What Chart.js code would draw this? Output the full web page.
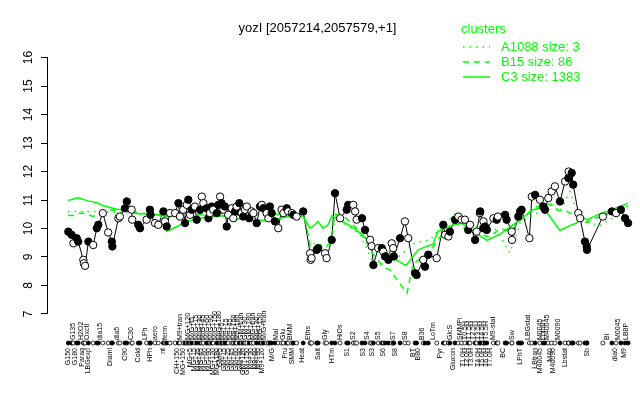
<!DOCTYPE html>
<html><head><meta charset="utf-8">
<script src="https://cdn.jsdelivr.net/npm/chart.js@4.4.1/dist/chart.umd.min.js"></script>
<style>html,body{margin:0;padding:0;background:#fff;}</style>
</head><body>
<canvas id="c" width="640" height="400"></canvas>
<script>
// ---- measured expression values (condition rank, log2 level, marker type) ----
const positions = [0.1,1.2,1.8,2.9,3.4,5.1,5.3,5.7,6.8,8.4,9.6,10.1,11.6,13.4,14.6,14.8,16.8,17.3,19.0,19.6,
21.2,21.4,23.4,24.0,26.2,27.3,27.5,29.0,30.1,31.8,32.3,32.9,34.0,35.7,36.8,37.3,38.4,39.0,39.6,40.1,
40.7,41.2,42.3,42.9,44.0,44.6,45.1,46.2,46.8,47.3,47.9,48.4,49.6,50.1,50.7,51.2,51.8,52.3,52.9,53.4,
54.6,55.1,55.7,56.2,57.1,57.9,58.4,59.0,59.6,60.4,61.2,61.8,62.9,64.0,64.6,65.1,66.2,66.8,67.3,67.9,
69.0,70.1,71.2,71.8,72.9,73.4,74.6,75.1,76.2,78.4,80.7,80.9,81.2,82.9,83.4,85.7,86.2,87.9,89.0,90.7,
92.9,93.4,95.1,95.7,96.2,98.0,99.0,100.7,101.2,101.8,103.4,104.6,105.1,105.7,106.8,107.9,108.4,108.6,110.7,112.3,
113.4,115.7,116.2,118.4,119.0,120.1,122.9,125.1,125.7,126.8,127.3,129.0,130.1,131.2,132.3,133.4,134.0,135.7,136.2,137.3,
137.4,138.4,138.5,139.0,139.6,141.8,142.9,143.3,145.7,146.2,147.9,148.0,150.1,150.7,151.2,153.8,154.6,155.7,157.3,158.4,
159.0,160.1,161.2,162.3,164.0,165.7,166.8,166.9,167.9,168.4,170.1,170.7,172.3,172.9,173.0,178.3,181.3,182.7,184.3,185.7,186.7];
const values = [9.89,9.78,9.48,9.66,9.54,8.90,8.78,8.69,9.54,9.42,10.01,10.13,10.54,9.86,9.54,9.37,10.36,10.42,10.71,10.95,
10.66,10.31,10.13,10.01,10.31,10.66,10.48,10.19,10.13,10.60,10.25,10.07,10.54,10.54,10.89,10.42,10.66,10.19,10.83,11.01,
10.48,10.66,10.77,10.31,10.66,11.12,10.89,10.71,10.36,10.54,10.77,10.66,10.54,10.83,11.12,10.89,10.66,10.77,10.07,10.48,
10.71,10.36,10.60,10.77,10.89,10.54,10.42,10.66,10.77,10.36,10.60,10.54,10.19,10.77,10.83,10.71,10.54,10.36,10.77,10.54,
10.25,10.01,10.66,10.54,10.71,10.60,10.54,10.48,10.42,10.60,9.13,8.90,8.96,9.25,9.31,9.13,8.96,9.60,11.24,10.36,
10.66,10.83,10.83,10.60,10.31,10.36,9.95,9.60,9.38,8.72,9.31,9.31,9.19,9.02,8.90,9.48,9.31,9.02,9.66,10.25,
9.66,8.43,8.37,8.90,8.66,9.08,8.96,10.13,9.78,9.72,9.89,10.31,10.42,10.31,10.31,9.95,10.13,9.60,9.89,10.54,
10.60,10.01,10.25,10.07,9.95,10.36,10.31,10.42,10.48,10.31,9.89,9.60,10.42,10.60,10.66,9.66,11.12,11.18,11.01,10.77,
10.66,11.07,11.30,11.48,10.95,11.65,11.77,12.00,11.95,11.54,10.54,10.36,9.54,9.37,9.25,10.42,10.60,10.54,10.66,10.36,10.19];
const filled = [1,1,0,1,1,0,0,0,1,0,1,1,0,0,1,1,0,0,1,1,
0,0,1,1,0,1,1,0,0,1,0,1,0,0,1,0,0,1,0,1,
0,1,0,1,1,0,0,1,1,0,1,0,1,1,0,1,0,1,1,0,
0,0,1,0,1,0,1,0,0,1,0,0,1,1,0,1,0,0,1,1,
1,0,0,0,1,0,0,1,0,1,0,0,0,1,1,0,0,1,1,0,
1,1,0,0,0,1,1,0,0,1,0,1,0,1,1,0,0,1,1,0,
0,1,1,0,1,1,0,1,0,0,1,1,0,0,0,1,0,1,0,0,
1,1,0,1,1,0,1,0,1,1,0,0,1,1,1,0,0,1,0,1,
1,0,0,0,1,0,1,0,1,1,0,0,1,1,1,0,1,0,1,1,1];

// ---- cluster profiles ----
const c3Pos = [0,3.3,6.7,9.7,11.7,16.3,19.7,23,27.3,30.7,31.7,33,35,39.7,44,47.3,51.7,55,59,61.7,68.3,70.7,75,78.3,80.7,82.3,83.3,85,86.7,88,90.7,94,97.3,99.7,101.7,105,107.3,109.7,112.7,114.3,116.7,119.7,121.7,123.3,126.3,129,131.3,134.7,139.7,144,150.7,155,157.3,159.7,164,167.3,169.7,170.7,173,177,181.3,186.7];
const c3Val = [10.98,11.08,10.97,10.9,10.8,10.68,10.66,10.52,10.52,10.48,10.3,9.9,10.0,10.25,10.36,10.4,10.45,10.3,10.38,10.3,10.28,10.36,10.46,10.42,10.01,10.13,10.25,10.01,10.13,10.45,10.28,10.1,9.85,9.6,9.4,9.2,9.1,8.88,8.7,8.92,9.25,9.38,9.45,9.9,10.05,10.15,10.18,9.92,9.58,9.8,10.3,10.66,10.71,10.55,9.93,10.1,10.2,10.45,10.3,10.5,10.66,10.89];
const b15Pos = [0,2,4,6,8.3,10.7,14,20.7,27.3,34,44,57.3,67.3,77.3,79,80.7,84,87.3,89,92.3,97.3,101.7,105,107.3,110.7,113,115,118.3,121.7,124,129,134,140.7,144,147.7,150.7,155.7,160.7,163,166.3,169.7,172.3,181.3,186.7];
const b15Val = [10.46,10.46,10.54,10.52,10.42,10.55,10.65,10.6,10.5,10.42,10.5,10.55,10.5,10.5,10.35,9.4,9.35,9.45,10.5,10.4,9.9,9.1,8.65,8.55,8.05,7.73,8.75,9.0,9.35,9.7,10.2,9.9,9.7,10.0,9.9,10.3,10.75,10.85,10.65,10.6,10.4,10.2,10.6,10.8];
const a1088Pos = [0,10.7,27.3,44,77.3,79,80.7,87.3,89,97.3,101.7,105.7,109,112.3,115.7,120.7,125.7,129,134,142.3,147.3,150.7,157.3,160.7,164,167.3,170.7,177.3,186.7];
const a1088Val = [10.6,10.6,10.5,10.45,10.5,10.3,9.5,9.35,10.4,9.8,8.8,8.75,8.9,9.2,9.5,9.6,10.2,10.5,10.1,10.0,9.15,10.2,10.6,10.9,10.6,11.3,10.3,10.1,10.7];
const clusterNames = ['A1088','B15','C3'];
const clusterSizes = [3,86,1383];

// ---- tick labels ----
const yTicks = [7,8,9,10,11,12,13,14,15,16];
const bottomNames = ['G150','G180','Paraq','LBGexp','Diaml','C90','Cold','HPh','nt','CH+150','MG+150',
'MG+5','MG+15','MG+25','MG+45','MG+60','MG+90','MG+120','MG+180','GM+5','GM+15','GM+25','GM+45','GM+60','GM+90','GM+120','GM+150','M9+30','M9+60','M9+90','M9+120',
'M/G','Fru','SMM','Heat','Salt','HTm','S1','S3','S3','S6','S8','BT','B80','Pyr','Glucon',
'T1.0H','T2.0H','T3.0H','T4.0H','T5.0H','T6.0H','T7.0H','BC','LPhT','LBtran','M40045','M40','M40090','Lbstat','Sb','dia0','M9'];
const bottomPos = [0,2.3,4.7,6.7,14,19,23.3,27.3,31.7,36.3,38.3,
40.7,42.0,43.2,44.5,45.8,47.0,48.3,49.6,50.8,52.1,53.4,54.6,55.9,57.2,58.4,59.7,61.0,62.2,63.5,64.8,
68,72.3,74.7,78,83.3,88,93,98.3,101.3,105,109,115,116.7,124,128.3,
131.7,133,134.3,136.7,138,139.3,140.7,145,150.7,155.7,157.3,160.7,161.7,165.7,173,182.3,185.3];
const topNames = ['G135','H2O2','Oxctl','dia15','dia5','C30','LPh','aero','ferm','M9+tran','MG+120',
'M/G+t5','M/G+15','M/G+30','M/G+45','M/G+60','M/G+90','M/G+150','M/G+180','M9+5','M9+15','M9+45','M9+150','M9+180','GM+tran','GM+30','GM+180','MG+tran','MG+30','MG+150','M/G+tran',
'Mal','Glu','BMM','Eths','Gly','HiOs','S2','S4','S5','S7','S8','B36','LoTm','GlcS','SMMPi',
'T0.5H','T1.5H','T2.5H','T3.5H','T4.5H','T5.5H','M9-stat','Sw','LBGstat','M0045','Lbtran','M40045','M0090','BI','M0045','LB8P'];
const topPos = [1.7,4.3,6.3,10.7,16.3,21,25.7,29,32.3,37.3,40,
41.3,42.6,43.9,45.1,46.4,47.7,48.9,50.2,51.5,52.7,54.0,55.3,56.5,57.8,59.1,60.3,61.6,62.9,64.1,65.4,
69.3,71.7,74,80,85.7,90.7,95,99.7,103.3,108.3,112.3,118,121.7,127.3,130.7,
132.3,133.7,135,136.7,138,139.3,141.7,148,153.3,157.3,158.3,159.7,163.3,179.7,183.3,186];

const MARKER_ROW = 5.98;
const FONT = '"Liberation Sans", Arial, Helvetica, sans-serif';
const GREEN = '#00ff00';

const toXY = (xs, ys) => xs.map((x, i) => ({x: x, y: ys[i]}));
const pointData = toXY(positions, values);
const markerData = positions.map(x => ({x: x, y: MARKER_ROW}));
const fills = filled.map(f => f ? '#000000' : '#ffffff');
const dashes = [[1.5, 5], [6, 5], []];

const extras = {
  id: 'extras',
  afterDraw(chart) {
    const ctx = chart.ctx, xs = chart.scales.x, ys = chart.scales.y, area = chart.chartArea;
    ctx.save();
    // y axis line limited to tick range
    ctx.strokeStyle = '#000'; ctx.lineWidth = 1; ctx.setLineDash([]);
    const ax = Math.round(area.left) - 0.5;
    ctx.beginPath();
    ctx.moveTo(ax, ys.getPixelForValue(yTicks[0]));
    ctx.lineTo(ax, ys.getPixelForValue(yTicks[yTicks.length - 1]));
    ctx.stroke();
    // condition labels, two staggered rows around the marker row
    const rowY = ys.getPixelForValue(MARKER_ROW);
    ctx.fillStyle = '#000';
    ctx.font = '7px ' + FONT;
    ctx.textBaseline = 'middle';
    topNames.forEach((n, i) => {
      ctx.save();
      ctx.translate(xs.getPixelForValue(topPos[i]), rowY - 3);
      ctx.rotate(-Math.PI / 2);
      ctx.textAlign = 'left';
      ctx.fillText(n, 0, 0);
      ctx.restore();
    });
    bottomNames.forEach((n, i) => {
      ctx.save();
      ctx.translate(xs.getPixelForValue(bottomPos[i]), rowY + 5);
      ctx.rotate(-Math.PI / 2);
      ctx.textAlign = 'right';
      ctx.fillText(n, 0, 0);
      ctx.restore();
    });
    // cluster legend
    ctx.font = '13px ' + FONT;
    ctx.fillStyle = GREEN;
    ctx.strokeStyle = GREEN;
    ctx.lineWidth = 1.5;
    ctx.textAlign = 'left';
    ctx.fillText('clusters', 461, 29);
    clusterNames.forEach((n, i) => {
      const y = 47 + i * 15;
      ctx.setLineDash(dashes[i]);
      ctx.beginPath(); ctx.moveTo(463, y); ctx.lineTo(490, y); ctx.stroke();
      ctx.fillText(n + ' size: ' + clusterSizes[i], 501, y);
    });
    ctx.restore();
  }
};

new Chart(document.getElementById('c'), {
  type: 'scatter',
  data: {
    datasets: [
      {data: pointData, showLine: true, borderColor: '#000', borderWidth: 1, pointRadius: 0, order: 5},
      {data: toXY(c3Pos, c3Val), showLine: true, borderColor: GREEN, borderWidth: 1.5, pointRadius: 0, order: 4},
      {data: toXY(b15Pos, b15Val), showLine: true, borderColor: GREEN, borderWidth: 1.5, borderDash: [6, 5], pointRadius: 0, order: 3},
      {data: toXY(a1088Pos, a1088Val), showLine: true, borderColor: GREEN, borderWidth: 1.5, borderDash: [1.5, 5], pointRadius: 0, order: 2},
      {data: pointData, showLine: false, pointRadius: 3.7, pointBackgroundColor: fills, pointBorderColor: '#000', pointBorderWidth: 1, order: 1},
      {data: markerData, showLine: false, pointRadius: 2, pointBackgroundColor: fills, pointBorderColor: '#000', pointBorderWidth: 0.8, order: 0}
    ]
  },
  options: {
    responsive: false,
    animation: false,
    events: [],
    layout: {padding: {left: 0, right: 5, top: 0, bottom: 53}},
    plugins: {
      legend: {display: false},
      tooltip: {enabled: false},
      title: {display: true, text: 'yozI [2057214,2057579,+1]', color: '#000',
        font: {family: FONT, size: 13, weight: 'normal'}, padding: {top: 21, bottom: 21}}
    },
    scales: {
      x: {type: 'linear', min: -6.67, max: 189, display: false},
      y: {
        type: 'linear', min: 5.84, max: 16,
        afterBuildTicks: s => { s.ticks = yTicks.map(v => ({value: v})); },
        afterFit: s => { s.width = 48; },
        border: {display: false},
        grid: {drawOnChartArea: false, drawTicks: true, tickLength: 7, color: '#000', tickColor: '#000'},
        ticks: {color: '#000', font: {family: FONT, size: 12}, minRotation: 90, maxRotation: 90,
          crossAlign: 'center', padding: 6}
      }
    }
  },
  plugins: [extras]
});
</script>
</body></html>
